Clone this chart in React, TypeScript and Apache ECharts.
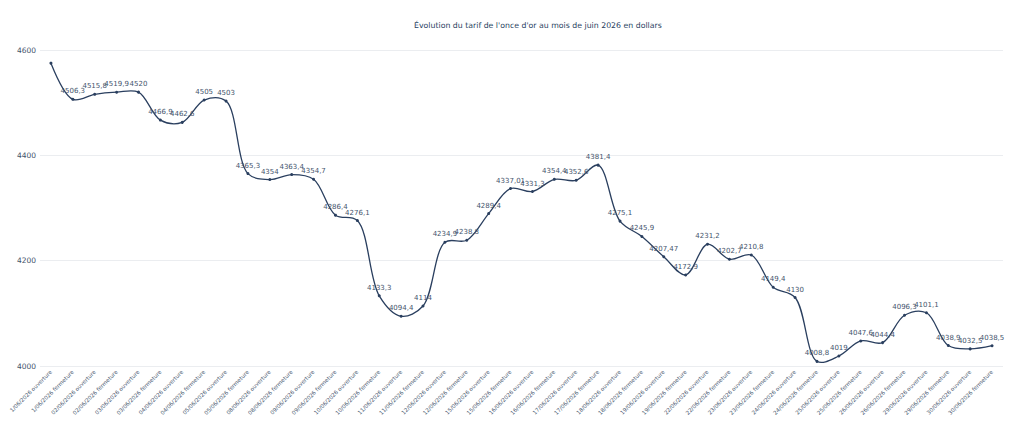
import React, { useEffect, useRef } from "react";
import * as echarts from "echarts";

const days = [
  "1", "1", "02", "02", "03", "03", "04", "04", "05", "05",
  "08", "08", "09", "09", "10", "10", "11", "11", "12", "12",
  "15", "15", "16", "16", "17", "17", "18", "18", "19", "19",
  "22", "22", "23", "23", "24", "24", "25", "25", "26", "26",
  "29", "29", "30", "30",
];
const categories = days.map(
  (d, i) => `${d}/06/2026 ${i % 2 === 0 ? "ouverture" : "fermeture"}`
);

const prices = [
  4575, 4506.3, 4515.8, 4519.9, 4520, 4466.9, 4462.6, 4505, 4503, 4365.3,
  4354, 4363.4, 4354.7, 4286.4, 4276.1, 4133.3, 4094.4, 4114, 4234.9, 4238.8,
  4289.4, 4337.01, 4331.3, 4354.4, 4352.6, 4381.4, 4275.1, 4245.9, 4207.47, 4172.9,
  4231.2, 4202.7, 4210.8, 4149.4, 4130, 4008.8, 4019, 4047.6, 4044.4, 4096.3,
  4101.1, 4038.9, 4032.5, 4038.5,
];

const yTicks = [4000, 4200, 4400, 4600];

const TITLE = "Évolution du tarif de l'once d'or au mois de juin 2026 en dollars";

const LINE_COLOR = "#2a3f5f";

// Catmull-Rom style tangent (spline with smoothing 1), in pixel space
function makeTangent(prev: number[], cur: number[], next: number[], s: number) {
  const d1x = prev[0] - cur[0];
  const d1y = prev[1] - cur[1];
  const d2x = next[0] - cur[0];
  const d2y = next[1] - cur[1];
  const d1a = Math.pow(d1x * d1x + d1y * d1y, 0.25);
  const d2a = Math.pow(d2x * d2x + d2y * d2y, 0.25);
  const numx = (d2a * d2a * d1x - d1a * d1a * d2x) * s;
  const numy = (d2a * d2a * d1y - d1a * d1a * d2y) * s;
  const den1 = 3 * d2a * (d1a + d2a);
  const den2 = 3 * d1a * (d1a + d2a);
  return [
    [cur[0] + (den1 ? numx / den1 : 0), cur[1] + (den1 ? numy / den1 : 0)],
    [cur[0] - (den2 ? numx / den2 : 0), cur[1] - (den2 ? numy / den2 : 0)],
  ];
}

function splinePath(pts: number[][]) {
  const f = (p: number[]) => `${p[0].toFixed(2)} ${p[1].toFixed(2)}`;
  if (pts.length < 3) return `M${f(pts[0])}L${f(pts[1])}`;
  const tangents: number[][][] = [];
  for (let i = 1; i < pts.length - 1; i++) {
    tangents.push(makeTangent(pts[i - 1], pts[i], pts[i + 1], 1));
  }
  let d = `M${f(pts[0])}Q${f(tangents[0][0])} ${f(pts[1])}`;
  for (let i = 1; i < pts.length - 2; i++) {
    d += `C${f(tangents[i - 1][1])} ${f(tangents[i][0])} ${f(pts[i + 1])}`;
  }
  d += `Q${f(tangents[pts.length - 3][1])} ${f(pts[pts.length - 1])}`;
  return d;
}

export default function App() {
  const ref = useRef<HTMLDivElement>(null);
  useEffect(() => {
    if (!ref.current) return;
    const chart = echarts.init(ref.current, undefined, { renderer: "svg" });
    const textColor = "#44546c";
    chart.setOption({
      animation: false,
      backgroundColor: "#ffffff",
      title: {
        text: TITLE,
        left: 409,
        top: 16,
        textStyle: {
          fontFamily: "DejaVu Sans",
          fontSize: 7.8,
          fontWeight: "normal",
          color: "#2a3f5f",
        },
      },
      grid: { left: 40, right: 21, top: 50, bottom: 69 },
      xAxis: {
        type: "category",
        data: categories,
        boundaryGap: true,
        axisLine: { show: false },
        axisTick: { show: false },
        axisLabel: {
          rotate: 45,
          interval: 0,
          fontSize: 5.5,
          fontFamily: "DejaVu Sans",
          color: textColor,
          margin: 5,
        },
      },
      yAxis: {
        type: "value",
        min: yTicks[0],
        max: yTicks[yTicks.length - 1],
        interval: 200,
        axisLine: { show: false },
        axisTick: { show: false },
        splitLine: { lineStyle: { color: "#ebedf0", width: 1 } },
        axisLabel: {
          fontSize: 7.5,
          fontFamily: "DejaVu Sans",
          color: textColor,
          margin: 4,
          formatter: (v: number) => String(v),
        },
      },
      series: [
        {
          type: "custom",
          data: prices.map((v, i) => [i, v]),
          encode: { x: 0, y: 1 },
          silent: true,
          z: 2,
          renderItem: (params: any, api: any) => {
            if (params.dataIndex !== 0) return null;
            const pts = prices.map((v, i) => api.coord([i, v]));
            return {
              type: "path",
              shape: { pathData: splinePath(pts) },
              style: { fill: "none", stroke: LINE_COLOR, lineWidth: 1.3 },
            };
          },
        },
        {
          type: "line",
          data: prices,
          z: 3,
          symbol: "circle",
          symbolSize: 3,
          lineStyle: { width: 0, opacity: 0 },
          itemStyle: { color: LINE_COLOR },
          clip: false,
          label: {
            show: true,
            position: "top",
            distance: 3,
            fontSize: 7,
            fontFamily: "DejaVu Sans",
            color: textColor,
            formatter: (p: any) =>
              p.dataIndex === 0 ? "" : String(p.value).replace(".", ","),
          },
        },
      ],
    });
    return () => chart.dispose();
  }, []);
  return (
    <div
      ref={ref}
      style={{ position: "fixed", left: 0, top: 0, width: 1024, height: 435 }}
    />
  );
}
